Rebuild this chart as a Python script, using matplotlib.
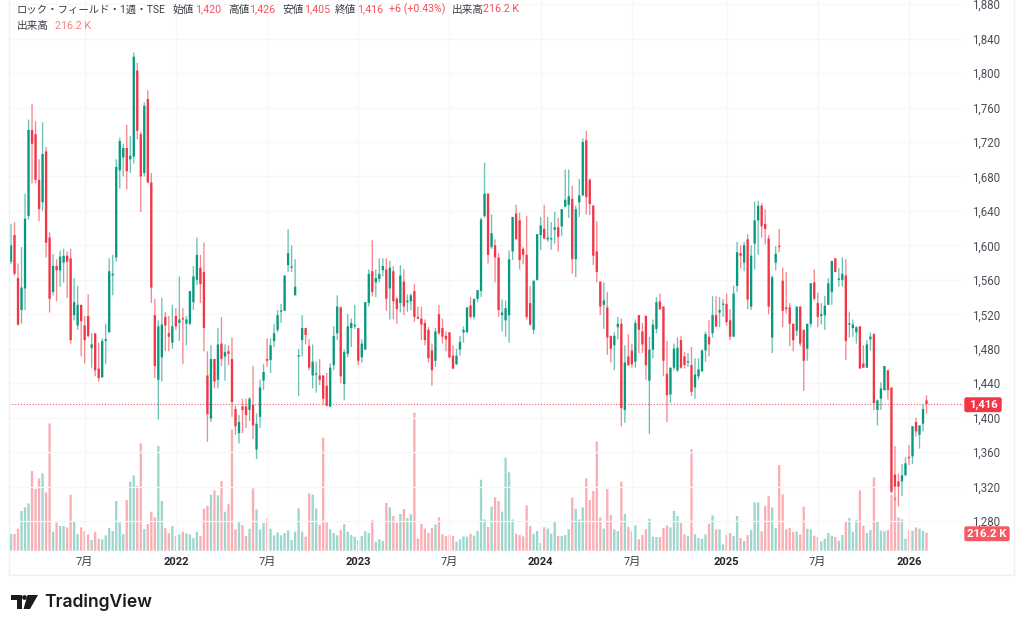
import matplotlib
matplotlib.use('Agg')
import matplotlib.pyplot as plt
from matplotlib.patches import FancyBboxPatch, Polygon, Circle

plt.rcParams['font.family'] = ['Roboto', 'Noto Sans CJK JP', 'DejaVu Sans']

# weekly candles
opens = [1581,1612,1562,1525,1550,1634,1734,1729,1676,1650,
         1709,1609,1546,1576,1571,1580,1588,1585,1519,1507,
         1531,1507,1518,1481,1498,1457,1447,1489,1499,1565,
         1586,1687,1702,1713,1700,1703,1803,1729,1684,1770,
         1673,1519,1444,1470,1517,1498,1487,1518,1510,1515,
         1509,1509,1534,1560,1574,1569,1449,1399,1468,1444,
         1486,1471,1477,1468,1410,1382,1413,1413,1409,1415,
         1363,1401,1443,1468,1467,1489,1502,1523,1524,1577,
         1574,1542,1471,1490,1504,1483,1449,1450,1449,1449,
         1437,1413,1461,1498,1528,1439,1474,1504,1506,1504,
         1470,1479,1533,1570,1557,1561,1571,1572,1550,1570,
         1538,1533,1558,1534,1535,1547,1517,1515,1510,1502,
         1478,1466,1520,1504,1495,1499,1472,1462,1479,1499,
         1499,1530,1517,1538,1547,1634,1660,1598,1600,1586,
         1519,1513,1519,1593,1637,1629,1596,1589,1533,1502,
         1560,1612,1619,1607,1607,1618,1621,1622,1645,1647,
         1654,1584,1650,1658,1722,1676,1646,1593,1558,1531,
         1528,1495,1484,1505,1509,1409,1471,1478,1465,1519,
         1500,1518,1443,1479,1503,1535,1529,1451,1427,1458,
         1455,1490,1471,1464,1461,1435,1448,1454,1478,1494,
         1498,1519,1522,1531,1532,1513,1494,1553,1591,1580,
         1607,1529,1602,1629,1646,1625,1608,1493,1580,1599,
         1559,1528,1528,1509,1501,1529,1502,1480,1509,1557,
         1533,1518,1519,1531,1546,1585,1560,1560,1565,1508,
         1504,1499,1506,1463,1458,1491,1497,1409,1422,1432,
         1455,1435,1334,1326,1326,1333,1354,1355,1395,1380,
         1393,1420]
highs = [1625,1627,1579,1598,1660,1746,1764,1744,1700,1743,
         1714,1615,1590,1584,1594,1596,1593,1596,1562,1553,
         1531,1518,1543,1498,1498,1487,1492,1509,1585,1589,
         1700,1725,1718,1740,1727,1824,1812,1732,1766,1780,
         1684,1538,1513,1539,1523,1518,1531,1527,1564,1527,
         1518,1547,1576,1609,1589,1603,1477,1484,1468,1504,
         1517,1485,1484,1493,1414,1403,1422,1422,1424,1460,
         1405,1444,1462,1492,1492,1509,1525,1532,1565,1619,
         1600,1584,1480,1519,1504,1491,1485,1465,1468,1449,
         1452,1463,1506,1542,1529,1479,1520,1515,1531,1504,
         1491,1534,1572,1606,1572,1585,1585,1585,1582,1576,
         1540,1577,1572,1543,1544,1555,1529,1529,1514,1505,
         1486,1504,1531,1515,1500,1499,1484,1480,1495,1506,
         1528,1540,1538,1548,1632,1696,1660,1636,1607,1591,
         1537,1536,1594,1633,1647,1638,1598,1634,1553,1559,
         1613,1633,1647,1633,1627,1639,1632,1642,1688,1688,
         1669,1646,1677,1724,1733,1678,1647,1628,1558,1557,
         1546,1495,1499,1517,1515,1484,1497,1486,1514,1519,
         1510,1519,1494,1514,1540,1544,1529,1489,1458,1486,
         1493,1495,1476,1475,1482,1469,1469,1479,1500,1513,
         1541,1541,1540,1538,1544,1526,1553,1604,1600,1604,
         1613,1600,1651,1652,1649,1642,1612,1565,1599,1619,
         1574,1569,1533,1509,1529,1529,1502,1509,1556,1572,
         1545,1533,1541,1562,1582,1585,1574,1586,1584,1523,
         1514,1506,1506,1484,1490,1499,1498,1421,1441,1460,
         1455,1435,1367,1335,1346,1354,1368,1390,1400,1391,
         1416,1426]
lows = [1578,1565,1507,1509,1525,1630,1672,1672,1628,1640,
        1586,1522,1542,1535,1552,1557,1539,1486,1513,1502,
        1471,1463,1493,1458,1448,1442,1446,1462,1499,1542,
        1581,1666,1680,1665,1684,1695,1723,1639,1680,1672,
        1533,1446,1398,1442,1477,1477,1480,1502,1489,1462,
        1484,1507,1525,1554,1533,1477,1372,1395,1434,1434,
        1460,1443,1461,1401,1380,1370,1382,1388,1396,1375,
        1352,1388,1432,1459,1452,1482,1499,1510,1524,1569,
        1569,1542,1425,1471,1485,1455,1434,1429,1438,1415,
        1413,1412,1455,1490,1440,1420,1470,1482,1503,1461,
        1464,1479,1529,1541,1540,1557,1564,1524,1514,1514,
        1509,1522,1519,1523,1525,1511,1514,1490,1484,1464,
        1437,1459,1496,1486,1477,1469,1456,1461,1472,1487,
        1499,1515,1514,1534,1540,1632,1579,1596,1557,1517,
        1500,1494,1487,1583,1607,1572,1578,1514,1507,1497,
        1559,1595,1607,1604,1595,1602,1593,1611,1644,1632,
        1567,1563,1633,1657,1636,1635,1577,1557,1519,1503,
        1473,1464,1455,1491,1390,1394,1460,1458,1458,1475,
        1475,1444,1381,1469,1498,1525,1448,1395,1417,1455,
        1453,1457,1457,1459,1425,1422,1444,1453,1465,1471,
        1493,1505,1505,1517,1507,1490,1494,1546,1573,1570,
        1526,1525,1572,1589,1609,1601,1520,1475,1571,1592,
        1505,1521,1483,1477,1495,1483,1431,1466,1505,1536,
        1505,1508,1502,1531,1531,1569,1552,1552,1467,1493,
        1494,1486,1457,1458,1458,1478,1409,1391,1409,1431,
        1421,1312,1304,1297,1309,1333,1345,1346,1378,1364,
        1384,1405]
closes = [1600,1567,1508,1551,1631,1734,1718,1676,1642,1706,
          1603,1538,1576,1571,1587,1588,1581,1490,1534,1531,
          1512,1490,1495,1485,1455,1446,1489,1491,1570,1567,
          1691,1721,1713,1686,1704,1819,1733,1680,1762,1673,
          1551,1460,1506,1508,1507,1494,1506,1506,1514,1514,
          1514,1547,1564,1589,1555,1504,1404,1468,1442,1485,
          1468,1476,1474,1418,1390,1395,1409,1403,1422,1391,
          1393,1435,1453,1466,1484,1498,1519,1524,1565,1591,
          1575,1552,1471,1504,1496,1458,1465,1451,1444,1422,
          1414,1458,1495,1529,1448,1476,1506,1510,1508,1466,
          1486,1534,1567,1546,1562,1567,1576,1538,1574,1535,
          1526,1565,1529,1536,1542,1517,1515,1508,1490,1469,
          1455,1500,1498,1494,1491,1470,1457,1472,1488,1502,
          1528,1517,1538,1548,1630,1660,1589,1614,1586,1525,
          1522,1527,1584,1633,1607,1583,1589,1517,1508,1559,
          1613,1623,1608,1609,1608,1621,1610,1642,1653,1657,
          1584,1642,1658,1720,1656,1648,1588,1569,1529,1536,
          1493,1480,1495,1509,1411,1464,1461,1462,1510,1502,
          1485,1461,1479,1508,1534,1526,1466,1426,1458,1480,
          1481,1458,1461,1465,1430,1450,1456,1478,1497,1485,
          1519,1506,1525,1532,1511,1494,1544,1592,1588,1600,
          1537,1588,1629,1646,1622,1619,1529,1563,1590,1598,
          1524,1526,1509,1490,1529,1486,1466,1509,1556,1538,
          1517,1520,1530,1556,1582,1569,1561,1567,1489,1509,
          1508,1505,1457,1458,1485,1494,1417,1420,1434,1460,
          1432,1314,1320,1320,1333,1347,1353,1390,1384,1391,
          1410,1416]
# volume in thousands of shares
volumes = [200,200,264,476,520,568,956,740,868,928,
           700,1528,228,340,296,296,280,672,348,200,
           280,236,196,128,228,144,136,184,272,236,
           596,340,200,608,828,904,776,1288,260,320,
           468,400,1256,596,272,212,296,176,196,228,
           208,196,152,228,176,504,536,672,724,664,
           836,468,560,1456,256,340,308,176,264,748,
           496,256,332,388,264,184,220,184,212,244,
           128,228,508,228,168,688,672,508,312,1356,
           340,256,212,184,248,316,228,188,168,128,
           176,236,212,368,108,136,116,572,520,416,
           332,440,500,392,436,1656,144,324,264,212,
           272,316,400,196,176,188,176,108,136,172,
           168,204,180,236,852,376,284,528,640,596,
           468,1116,940,376,204,188,172,544,296,204,
           236,92,280,264,204,348,176,176,188,256,
           640,504,376,520,868,608,716,1312,400,264,
           740,428,256,236,828,440,288,232,304,136,
           188,256,384,168,164,164,272,304,280,476,
           416,332,196,176,1220,196,152,144,196,324,
           424,256,256,76,188,212,176,416,152,116,
           188,248,580,580,232,536,656,520,272,1028,
           676,256,272,224,232,196,528,264,256,180,
           164,112,144,212,180,164,120,188,356,392,
           228,368,724,300,212,248,880,356,240,232,
           248,668,640,400,376,144,248,240,280,264,
           240,216.2]

price_ticks = [1880,1840,1800,1760,1720,1680,1640,1600,1560,1520,1480,1440,1400,1360,1320,1280]
time_ticks = [21,47,73,99,125,151,177,204,230,256]
time_labels = ['7月','2022','7月','2023','7月','2024','7月','2025','7月','2026']
last_price = 1416
last_volume = 216.2

UP = '#089981'
DOWN = '#F23645'
W, H = 1024, 629

fig = plt.figure(figsize=(W/100, H/100), dpi=100)
pane = [9/W, 1-553/H, 954/W, 553/H]

# volume sits behind the candles, same pane
axv = fig.add_axes(pane)
axv.set_xlim(-0.57, 271.4)
axv.set_ylim(-27.6, 6608)
axv.axis('off')

ax = fig.add_axes(pane)
ax.patch.set_alpha(0)
ax.set_xlim(-0.57, 271.4)
ax.set_ylim(1242.9, 1884.8)
for s in ax.spines.values():
    s.set_visible(False)

xs = list(range(len(opens)))
cols = [UP if c >= o else DOWN for o, c in zip(opens, closes)]

vbars = axv.bar(xs, volumes, width=0.66, color=cols, alpha=0.4, linewidth=0)
for b in vbars:
    b.set_snap(False)

wicks = ax.vlines(xs, lows, highs, colors=cols, linewidth=0.95, alpha=0.6, zorder=3)
wicks.set_snap(False)
bottoms = [min(o, c) for o, c in zip(opens, closes)]
heights = [max(abs(c-o), 1.5) for o, c in zip(opens, closes)]
bodies = ax.bar(xs, heights, bottom=bottoms, width=0.66, color=cols, linewidth=0, zorder=4)
for b in bodies:
    b.set_snap(False)

ax.axhline(last_price, color=DOWN, linewidth=0.8, linestyle=(0, (1, 1.6)), alpha=0.8, zorder=2)

ax.set_xticks(time_ticks)
ax.set_xticklabels(time_labels, fontsize=8, color='#3a3d46')
for lab, txt in zip(ax.get_xticklabels(), time_labels):
    if txt != '7月':
        lab.set_fontweight('bold')
        lab.set_color('#22252e')
ax.yaxis.tick_right()
ax.set_yticks(price_ticks)
ax.set_yticklabels([f'{p:,}' for p in price_ticks], fontsize=8.3, color='#4a4e58')
ax.tick_params(axis='both', length=0)
ax.tick_params(axis='y', pad=6.5)
ax.tick_params(axis='x', pad=3)
ax.grid(True, color='#f6f7f9', linewidth=0.9)
ax.set_axisbelow(True)

# overlay in pixel coordinates for legend text, labels and logo
ov = fig.add_axes([0, 0, 1, 1], zorder=10)
ov.set_xlim(0, W)
ov.set_ylim(H, 0)
ov.axis('off')
ov.patch.set_alpha(0)

border = '#eef0f4'
ov.plot([9, 9], [0, 575], color=border, lw=1)
ov.plot([9, 1014], [575, 575], color=border, lw=1)
ov.plot([1014, 1014], [0, 575], color=border, lw=1)

TXT = '#3a3d46'
RED = '#F4505C'
legend_row = [(173, '始値', TXT), (195, '1,420', RED),
              (228, '高値', TXT), (249, '1,426', RED), (282, '安値', TXT), (304, '1,405', RED),
              (335, '終値', TXT), (357, '1,416', RED), (389, '+6 (+0.43%)', RED),
              (452, '出来高', TXT), (483, '216.2 K', RED)]
ov.text(17, 9.5, 'ロック・フィールド・1週・TSE', fontsize=7.45, color=TXT, va='center', ha='left')
for x, s, c in legend_row:
    ov.text(x, 9.5, s, fontsize=7.7, color=c, va='center', ha='left')
ov.text(17, 26, '出来高', fontsize=7.7, color=TXT, va='center', ha='left')
ov.text(55, 26, '216.2 K', fontsize=7.7, color='#F77C80', va='center', ha='left')

ov.add_patch(FancyBboxPatch((965, 398), 36, 13.5, boxstyle='round,pad=0,rounding_size=1.5', fc=DOWN, ec=DOWN, lw=1))
ov.text(983, 404.8, f'{last_price:,}', fontsize=8.2, color='white', fontweight='bold', va='center', ha='center')
ov.add_patch(FancyBboxPatch((965, 527), 44, 13.5, boxstyle='round,pad=0,rounding_size=1.5', fc='#F55A63', ec='#F55A63', lw=1))
ov.text(987, 533.8, f'{last_volume} K', fontsize=8.2, color='white', fontweight='bold', va='center', ha='center')

# TradingView logo
LOGO = '#1c1c1c'
ov.add_patch(Polygon([(11, 595), (22, 595), (22, 609), (16.5, 609), (16.5, 600), (11, 600)], fc=LOGO, ec='none'))
ov.add_patch(Circle((24.5, 597.5), 2.4, fc=LOGO, ec='none'))
ov.add_patch(Polygon([(27.5, 595), (38, 595), (30, 609), (23.5, 609)], fc=LOGO, ec='none'))
ov.text(44, 602.5, 'TradingView', fontsize=12.6, color=LOGO, family='Inter', fontweight='semibold', va='center', ha='left')

fig.savefig('out.png', dpi=100)
